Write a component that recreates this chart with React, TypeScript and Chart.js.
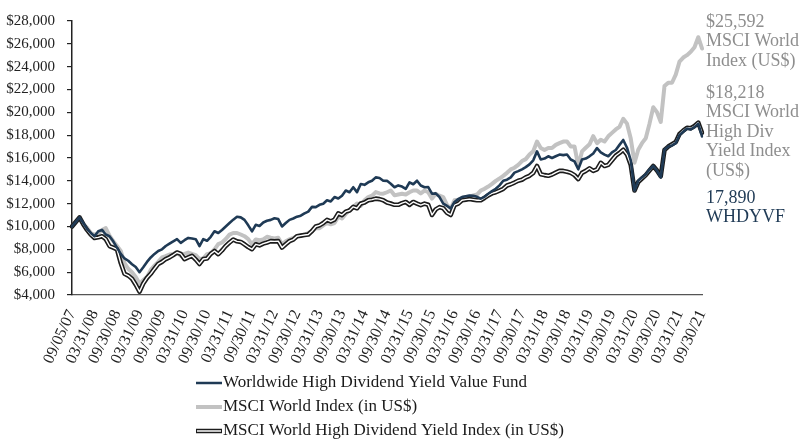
import React, { useEffect, useRef } from 'react';
import { Chart, registerables } from 'chart.js';

Chart.register(...registerables);

// Growth of $10,000 — monthly values (index 0 = 09/05/07, then month-ends from 10/31/07 to 09/30/21)
const fundValues = [
  10000, 10400, 10800, 10300, 9800, 9430, 9150, 9580, 9700, 9300, 9150, 8700,
  8150, 7600, 7200, 7000, 6700, 6450, 6000, 6430, 6900, 7290, 7600, 7860,
  8000, 8290, 8500, 8700, 8890, 8570, 8800, 9000, 8950, 8890, 8290, 8890,
  8750, 9100, 9580, 9430, 9700, 10000, 10300, 10600, 10860, 10800, 10580, 10100,
  9580, 10150, 10050, 10350, 10500, 10580, 10720, 10650, 10000, 10300, 10580, 10700,
  10860, 10950, 11150, 11300, 11720, 11700, 11900, 12000, 12300, 12200, 12580, 12450,
  12700, 13150, 13000, 13440, 13010, 13720, 13650, 13870, 14000, 14300, 14250, 14010,
  14000, 13750, 13440, 13600, 13500, 13300, 13870, 13700, 14010, 13590, 13440, 13450,
  12870, 12900, 12580, 12010, 11800, 11580, 12150, 12400, 12580, 12650, 12720, 12700,
  12600, 12440, 12600, 12870, 13100, 13300, 13600, 14010, 14100, 14300, 14720, 14850,
  15010, 15200, 15440, 15800, 16580, 15870, 15950, 16150, 16000, 16150, 16300, 16250,
  16300, 15870, 15700, 15010, 15870, 15950, 16150, 16400, 16870, 16500, 16300, 16150,
  16500, 16700, 17150, 17580, 16900, 15800, 13150, 14000, 14300, 14580, 15000, 15300,
  14900, 14300, 16750, 17000, 17100, 17300, 18010, 18300, 18580, 18500, 18700, 19010,
  17890,
];

const msciWorldValues = [
  10000, 10400, 10700, 10200, 9900, 9430, 9300, 9350, 9700, 9860, 9200, 8720,
  8300, 7860, 6800, 6300, 6000, 5570, 5000, 5300, 5570, 6200, 6570, 6900,
  7290, 7400, 7550, 7600, 7720, 7430, 7600, 7720, 7600, 7500, 7150, 7200,
  7580, 7650, 8000, 8460, 8600, 8900, 9290, 9430, 9430, 9300, 9150, 8900,
  8440, 8870, 8800, 8870, 9100, 9010, 8950, 9010, 8440, 8700, 8870, 9000,
  9150, 9200, 9300, 9430, 9600, 9860, 9850, 10100, 10300, 10200, 10300, 10860,
  10700, 11100, 11440, 11700, 12010, 11800, 12300, 12580, 12700, 13010, 12900, 12870,
  13000, 13150, 12730, 12800, 12870, 12800, 13000, 13150, 13150, 12900, 13150, 13000,
  12440, 12870, 12700, 12580, 11900, 11580, 12300, 12350, 12500, 12580, 12600, 12730,
  12800, 13150, 13300, 13500, 13730, 14000, 14200, 14440, 14700, 15000, 15150, 15400,
  15730, 15900, 16300, 16600, 17440, 16870, 16700, 16870, 16870, 17150, 17300, 17440,
  17440, 17010, 17010, 15300, 16580, 16900, 17200, 17910, 17300, 17600, 17440, 17900,
  18200, 18500, 18730, 19440, 19010, 17700, 15580, 16720, 17300, 17730, 19010, 20440,
  20010, 19160, 22300, 22600, 22590, 23300, 24440, 24800, 25010, 25300, 25700, 26580,
  25592,
];

const msciHdyValues = [
  10000, 10400, 10800, 10200, 9700, 9290, 9000, 9050, 9150, 8900, 8290, 8150,
  8000, 6800, 5860, 5700, 5430, 4900, 4290, 5000, 5500, 5860, 6300, 6720,
  6900, 7150, 7300, 7500, 7720, 7600, 7150, 7300, 7430, 7100, 6720, 7150,
  7200, 7600, 7860, 7580, 7900, 8300, 8590, 8860, 8700, 8650, 8440, 8200,
  8010, 8440, 8350, 8500, 8600, 8720, 8700, 8720, 8150, 8450, 8720, 8850,
  9150, 9200, 9250, 9300, 9600, 10000, 10100, 10300, 10580, 10440, 10600, 11150,
  11000, 11300, 11400, 11720, 11600, 12010, 12100, 12300, 12350, 12440, 12400, 12300,
  12100, 12010, 11900, 11900, 12050, 12150, 11900, 12150, 12000, 11870, 12000, 11900,
  11010, 11500, 11700, 11600, 11200, 11010, 11870, 12000, 12300, 12350, 12400, 12350,
  12300, 12300, 12500, 12730, 12900, 13000, 13150, 13300, 13590, 13700, 13850, 14010,
  14100, 14300, 14440, 14700, 15300, 14580, 14500, 14440, 14550, 14720, 14870, 14870,
  14800, 14700, 14500, 14150, 14700, 14870, 15100, 14870, 15000, 15580, 15300, 15400,
  15800, 16200, 16440, 16720, 16300, 15400, 13150, 13900, 14200, 14500, 14900, 15300,
  14900, 14400, 16700, 17000, 17200, 17400, 18100, 18400, 18650, 18600, 18800, 19100,
  18218,
];

const tickLabels = [
  '09/05/07', '03/31/08', '09/30/08', '03/31/09', '09/30/09', '03/31/10', '09/30/10',
  '03/31/11', '09/30/11', '03/31/12', '09/30/12', '03/31/13', '09/30/13', '03/31/14',
  '09/30/14', '03/31/15', '09/30/15', '03/31/16', '09/30/16', '03/31/17', '09/30/17',
  '03/31/18', '09/30/18', '03/31/19', '09/30/19', '03/31/20', '09/30/20', '03/31/21',
  '09/30/21',
];

const seriesNames = [
  'Worldwide High Dividend Yield Value Fund',
  'MSCI World Index (in US$)',
  'MSCI World High Dividend Yield Index (in US$)',
];

const endLabelsWorld = ['$25,592', 'MSCI World', 'Index (US$)'];
const endLabelsHdy = ['$18,218', 'MSCI World', 'High Div', 'Yield Index', '(US$)'];
const endLabelsFund = ['17,890', 'WHDYVF'];

const TICK_EVERY = 6;

function buildCategories(): string[] {
  const out: string[] = ['09/05/07'];
  for (let i = 1; i < fundValues.length; i++) {
    const m0 = 9 + i;
    const year = 2007 + Math.floor((m0 - 1) / 12);
    const month = ((m0 - 1) % 12) + 1;
    const day = new Date(year, month, 0).getDate();
    const mm = String(month).padStart(2, '0');
    const dd = String(day).padStart(2, '0');
    const yy = String(year % 100).padStart(2, '0');
    out.push(`${mm}/${dd}/${yy}`);
  }
  return out;
}

const FONT = "'Liberation Serif', 'Times New Roman', serif";
const NAVY = '#1f3a55';
const GRAY = '#c2c2c2';
const DARK = '#1c1c1c';
const GRAYTEXT = '#8e8e8e';

const overlayPlugin = {
  id: 'overlayText',
  afterDraw(chart: any) {
    const ctx = chart.ctx as CanvasRenderingContext2D;
    ctx.save();
    ctx.textBaseline = 'middle';
    ctx.textAlign = 'left';
    ctx.font = `18px ${FONT}`;
    const ax = 706;
    const lh = 19.5;
    ctx.fillStyle = GRAYTEXT;
    endLabelsWorld.forEach((t, i) => ctx.fillText(t, ax, 22 + i * lh));
    endLabelsHdy.forEach((t, i) => ctx.fillText(t, ax, 93 + i * lh));
    ctx.fillStyle = NAVY;
    endLabelsFund.forEach((t, i) => ctx.fillText(t, ax, 198 + i * lh));

    const lx0 = 196;
    const lx1 = 222;
    const rows = [383, 407, 431];
    ctx.font = `17px ${FONT}`;
    ctx.lineCap = 'butt';
    rows.forEach((y, i) => {
      if (i === 0) {
        ctx.strokeStyle = NAVY; ctx.lineWidth = 2.5;
        ctx.beginPath(); ctx.moveTo(lx0, y); ctx.lineTo(lx1, y); ctx.stroke();
      } else if (i === 1) {
        ctx.strokeStyle = GRAY; ctx.lineWidth = 4;
        ctx.beginPath(); ctx.moveTo(lx0, y); ctx.lineTo(lx1, y); ctx.stroke();
      } else {
        ctx.strokeStyle = DARK; ctx.lineWidth = 4.5;
        ctx.beginPath(); ctx.moveTo(lx0, y); ctx.lineTo(lx1, y); ctx.stroke();
        ctx.strokeStyle = '#ffffff'; ctx.lineWidth = 1.5;
        ctx.beginPath(); ctx.moveTo(lx0 + 1, y); ctx.lineTo(lx1 - 1, y); ctx.stroke();
      }
      ctx.fillStyle = '#1a1a1a';
      ctx.fillText(seriesNames[i], lx1 + 1, y);
    });
    ctx.restore();
  },
};

export default function App() {
  const canvasRef = useRef<HTMLCanvasElement | null>(null);

  useEffect(() => {
    document.body.style.margin = '0';
    const canvas = canvasRef.current;
    if (!canvas) return;
    const categories = buildCategories();
    const lineBase = { pointRadius: 0, pointHoverRadius: 0, tension: 0, fill: false, borderJoinStyle: 'round' as const, borderCapStyle: 'round' as const };
    const chart = new Chart(canvas, {
      type: 'line',
      data: {
        labels: categories,
        datasets: [
          { ...lineBase, label: seriesNames[0], data: fundValues, borderColor: NAVY, borderWidth: 2.6 },
          { ...lineBase, label: seriesNames[2] + ' inner', data: msciHdyValues, borderColor: '#ffffff', borderWidth: 1.4 },
          { ...lineBase, label: seriesNames[2], data: msciHdyValues, borderColor: DARK, borderWidth: 4.6 },
          { ...lineBase, label: seriesNames[1], data: msciWorldValues, borderColor: GRAY, borderWidth: 4 },
        ],
      },
      options: {
        animation: false,
        responsive: false,
        devicePixelRatio: 1,
        layout: { padding: { left: 0, right: 102, top: 15, bottom: 0 } },
        plugins: { legend: { display: false }, tooltip: { enabled: false } },
        events: [],
        scales: {
          x: {
            type: 'category',
            offset: false,
            grid: { display: false },
            border: { display: true, color: '#555', width: 1.2 },
            ticks: {
              autoSkip: false,
              maxRotation: 65,
              minRotation: 65,
              padding: 4,
              color: '#222',
              font: { family: FONT, size: 16 },
              callback: (_v: any, idx: number) => (idx % TICK_EVERY === 0 ? tickLabels[idx / TICK_EVERY] : null),
            },
            afterFit: (scale: any) => { scale.height = 147; },
          },
          y: {
            min: 4000,
            max: 28000,
            grid: { display: true, drawOnChartArea: false, drawTicks: true, tickLength: 5, color: '#222', lineWidth: 1.2 },
            border: { display: true, color: '#222', width: 1.5 },
            ticks: {
              stepSize: 2000,
              padding: 12,
              color: '#222',
              font: { family: FONT, size: 15 },
              callback: (v: any) => '$' + Number(v).toLocaleString('en-US'),
            },
            afterFit: (scale: any) => { scale.width = 72; },
          },
        },
      },
      plugins: [overlayPlugin],
    });
    return () => chart.destroy();
  }, []);

  return (
    <div style={{ width: 804, height: 442, position: 'relative' }}>
      <canvas ref={canvasRef} width={804} height={442} style={{ display: 'block', width: 804, height: 442 }} />
    </div>
  );
}
